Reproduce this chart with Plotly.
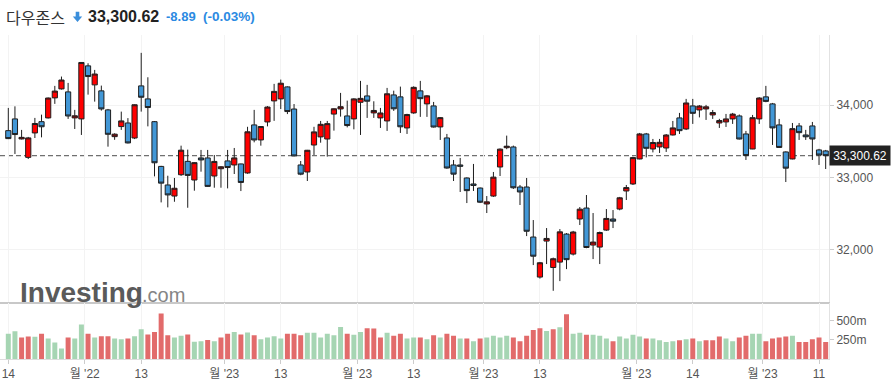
import plotly.graph_objects as go

# ---------------- data ----------------
dates = ["11-14","11-15","11-16","11-17","11-18","11-21","11-22","11-23","11-25","11-28","11-29","11-30",
         "12-01","12-02","12-05","12-06","12-07","12-08","12-09","12-12","12-13","12-14","12-15","12-16",
         "12-19","12-20","12-21","12-22","12-23","12-27","12-28","12-29","12-30",
         "01-03","01-04","01-05","01-06","01-09","01-10","01-11","01-12","01-13","01-17","01-18","01-19",
         "01-20","01-23","01-24","01-25","01-26","01-27","01-30","01-31",
         "02-01","02-02","02-03","02-06","02-07","02-08","02-09","02-10","02-13","02-14","02-15","02-16",
         "02-17","02-21","02-22","02-23","02-24","02-27","02-28",
         "03-01","03-02","03-03","03-06","03-07","03-08","03-09","03-10","03-13","03-14","03-15","03-16",
         "03-17","03-20","03-21","03-22","03-23","03-24","03-27","03-28","03-29","03-30","03-31",
         "04-03","04-04","04-05","04-06","04-10","04-11","04-12","04-13","04-14","04-17","04-18","04-19",
         "04-20","04-21","04-24","04-25","04-26","04-27","04-28",
         "05-01","05-02","05-03","05-04","05-05","05-08","05-09","05-10","05-11","05-12"]

open_ = [33647,33809,33532,33277,33615,33771,33823,34100,34224,34183,33823,33809,
         34543,34280,34197,33934,33564,33703,33753,33545,34266,34086,33771,33152,
         32895,32742,33037,33222,32964,33269,33269,33019,33120,
         33228,33172,33186,33061,33726,33518,33767,34058,34086,34252,33946,33172,
         33075,33448,33560,33531,33876,33947,33850,33809,
         34039,34127,33892,33823,33781,34141,34114,33684,33892,34197,34017,33989,
         33698,33546,33172,33172,32992,32909,32853,
         32632,32742,33144,33411,33421,32867,32867,32175,31621,32119,31754,31828,
         32216,31939,32424,32576,32064,32036,32271,32424,32562,32812,32909,
         33255,33601,33393,33421,33407,33587,33823,33670,33989,33933,33947,33864,
         33753,33767,33809,33850,33601,33393,33809,
         34114,34017,33726,33352,33255,33712,33587,33712,33380,33366]

high = [33961,33983,33657,33560,33823,33868,34105,34266,34395,34307,33934,34595,
        34579,34487,34270,33947,33610,33910,33820,34010,34723,34385,33780,33160,
        33023,32992,33439,33384,33210,33380,33380,33310,33155,
        33380,33407,33190,33700,33934,33710,33986,34294,34353,34260,34015,33227,
        33380,33700,33781,33781,33955,34169,34062,34095,
        34335,34280,34053,33961,34238,34200,34256,33880,34260,34335,34140,34044,
        33835,33601,33241,33269,33000,33186,32860,
        32742,33075,33400,33578,33440,32895,32992,32410,31830,32299,31890,32285,
        32230,32260,32590,32756,32507,32250,32562,32548,32730,32895,33285,
        33615,33615,33532,33532,33600,33781,33892,34086,34086,34000,34003,33933,
        33810,33878,33892,33870,33643,33864,34110,
        34266,34030,33809,33360,33753,33753,33657,33767,33395,33380]

low = [33530,33324,33525,33254,33545,33554,33815,34017,34215,33809,33670,33587,
       34145,34048,33924,33425,33520,33657,33470,33530,33910,33706,33014,32654,
       32585,32663,33020,32580,32816,33079,32870,32857,32857,
       32848,33047,32811,33050,33485,33439,33706,33782,33946,33876,33290,33030,
       32950,33310,33480,33287,33647,33841,33692,33665,
       33587,33823,33823,33684,33643,33920,33615,33601,33880,33837,33837,33690,
       33518,33120,32950,32798,32645,32812,32645,
       32507,32730,33019,33390,32840,32618,32188,31787,31600,31801,31431,31565,
       31731,31920,32341,32020,31870,31801,32260,32299,32545,32687,32895,
       33250,33277,33346,33338,33352,33580,33601,33655,33740,33830,33795,33809,
       33684,33698,33740,33525,33241,33390,33740,
       34040,33449,33410,32936,33250,33518,33518,33241,33172,33116]

close = [33536.70,33592.92,33553.83,33546.32,33745.69,33700.28,34098.10,34194.06,34347.03,33849.46,33852.53,34589.77,
         34395.01,34429.88,33947.10,33596.34,33597.92,33781.48,33476.46,34005.04,34108.64,33966.35,33202.22,32920.46,
         32757.54,32849.74,33376.48,33027.49,33203.93,33241.56,32875.71,33220.80,33147.25,
         33136.37,33269.77,32930.08,33630.61,33517.65,33704.10,33973.01,34189.97,34302.61,33910.85,33296.96,33044.56,
         33375.49,33629.56,33733.96,33743.84,33949.41,33978.08,33717.09,34086.04,
         34092.96,34053.94,33926.01,33891.02,34156.69,33949.01,33699.88,33869.27,34245.93,34089.27,34128.05,33696.85,
         33826.69,33129.59,33045.09,33153.91,32816.92,32889.09,32656.70,
         32661.84,33003.57,33390.97,33431.44,32856.46,32798.40,32254.86,31909.64,31819.14,32155.40,31874.57,32246.55,
         31861.98,32244.58,32560.60,32030.11,32105.25,32237.53,32432.08,32394.25,32717.60,32859.03,33274.15,
         33601.15,33402.38,33482.72,33485.29,33586.52,33684.79,33646.50,34029.69,33886.47,33987.18,33976.63,33897.01,
         33786.62,33808.96,33875.40,33530.83,33301.87,33826.16,34098.16,
         34051.70,33684.53,33414.24,33127.74,33674.38,33618.69,33561.81,33531.33,33309.51,33300.62]

volume_m = [331,362,283,295,290,331,270,217,137,283,270,452,331,283,298,298,270,258,270,298,
            391,322,355,597,310,283,306,322,226,234,250,234,283,331,355,322,347,310,258,283,
            298,270,331,331,310,343,343,283,331,310,419,331,318,355,403,399,283,343,306,331,
            270,283,283,258,310,283,331,306,270,270,234,270,283,306,283,306,283,234,306,379,
            403,367,391,415,585,331,343,318,318,306,270,234,295,270,318,295,270,270,246,222,
            234,246,258,270,234,246,246,295,270,234,283,306,331,331,234,270,283,295,306,222,
            222,258,283,222]

tick_pos = [0, 11.5, 20, 32.5, 41, 52.5, 61, 71.5, 80, 94.5, 103, 113.5, 122]
tick_text = ["14", "월 '22", "13", "월 '23", "13", "월 '23", "13", "월 '23", "13", "월 '23", "14", "월 '23", "11"]

price_ticks = [32000, 33000, 34000]
vol_ticks = [250, 500]
last_price = 33300.62
name = "다우존스"
change = "-8.89"
change_pct = "(-0.03%)"

# ---------------- derived ----------------
idx = list(range(len(close)))
vol_colors = ["#a6d5b3"] + ["#a6d5b3" if close[i] >= close[i - 1] else "#e26b6b" for i in range(1, len(close))]
volume = [v * 1e6 for v in volume_m]

# pixel helpers (plot area: x 0..829, y 35..359)
W, TOP, BOT = 829.0, 35.0, 359.0
def px(x):
    return x / W
def py(y):
    return (BOT - y) / (BOT - TOP)

FONT = "Liberation Sans, Arial, Noto Sans CJK KR, sans-serif"
fig = go.Figure()

fig.add_trace(go.Candlestick(
    x=idx, open=open_, high=high, low=low, close=close,
    increasing=dict(fillcolor="#ff0000", line=dict(color="#1e1e1e", width=1)),
    decreasing=dict(fillcolor="#4297d6", line=dict(color="#1e1e1e", width=1)),
    whiskerwidth=0, xaxis="x", yaxis="y", showlegend=False, hoverinfo="skip"))

fig.add_trace(go.Bar(
    x=idx, y=volume, marker=dict(color=vol_colors, line=dict(width=0)),
    xaxis="x2", yaxis="y2", showlegend=False, hoverinfo="skip"))

xr = [-1.25, 123.5]
split = py(301.5)
fig.update_layout(
    width=896, height=385,
    margin=dict(l=0, r=67, t=35, b=26),
    paper_bgcolor="white", plot_bgcolor="white",
    bargap=0.25, boxgap=0.22, boxgroupgap=0,
    xaxis=dict(domain=[0, 1], anchor="y", range=xr, showticklabels=False,
               tickvals=tick_pos, showgrid=True, gridcolor="#f3f3f3",
               showline=True, linecolor="#c8c8c8", linewidth=1.5,
               rangeslider=dict(visible=False), zeroline=False, ticks=""),
    yaxis=dict(domain=[split, 1], anchor="x", side="right", range=[31283, 34970],
               tickvals=price_ticks, ticktext=[f"{v:,}" for v in price_ticks],
               showgrid=True, gridcolor="#f3f3f3", zeroline=False,
               showline=True, linecolor="#e2e2e2", ticks="outside", ticklen=4,
               tickcolor="#cccccc", tickfont=dict(family=FONT, size=12, color="#555555")),
    xaxis2=dict(domain=[0, 1], anchor="y2", range=xr, matches="x",
                tickvals=tick_pos, ticktext=tick_text, showgrid=True, gridcolor="#f3f3f3",
                showline=True, linecolor="#dddddd", ticks="outside", ticklen=4,
                tickcolor="#cccccc", zeroline=False,
                tickfont=dict(family=FONT, size=12, color="#555555")),
    yaxis2=dict(domain=[0, py(302.5)], anchor="x2", side="right", range=[0, 740e6],
                tickvals=[v * 1e6 for v in vol_ticks], ticktext=[f"{v}m" for v in vol_ticks],
                showgrid=False, zeroline=False, showline=True, linecolor="#e2e2e2",
                ticks="outside", ticklen=4, tickcolor="#cccccc",
                tickfont=dict(family=FONT, size=12, color="#555555")),
)

# dashed last-price line
fig.add_shape(type="line", xref="paper", yref="y", x0=0, x1=1, y0=last_price, y1=last_price,
              line=dict(color="#707070", width=1.3, dash="5px,3px"), layer="below")

# last price box
fig.add_annotation(xref="paper", yref="y", x=1, y=last_price, xanchor="left", yanchor="middle",
                   text=f"{last_price:,.2f}", showarrow=False, bgcolor="#222222",
                   width=58, height=17, borderpad=1,
                   font=dict(family=FONT, size=12, color="white"))

# header
fig.add_annotation(xref="paper", yref="paper", x=px(4), y=py(17), xanchor="left", yanchor="middle",
                   text=name, showarrow=False,
                   font=dict(family="Noto Sans CJK KR", size=16, color="#333333"))
arrow = [(75.7, 11.7), (79.3, 11.7), (79.3, 16.5), (82.2, 16.5), (77.5, 22), (72.8, 16.5), (75.7, 16.5)]
path = "M " + " L ".join(f"{px(a):.5f},{py(b):.5f}" for a, b in arrow) + " Z"
fig.add_shape(type="path", xref="paper", yref="paper", path=path,
              fillcolor="#3a8edb", line=dict(width=0))
fig.add_annotation(xref="paper", yref="paper", x=px(86), y=py(17), xanchor="left", yanchor="middle",
                   text=f"<b>{close[-1]:,.2f}</b>", showarrow=False,
                   font=dict(family=FONT, size=16, color="#222222"))
fig.add_annotation(xref="paper", yref="paper", x=px(164), y=py(17), xanchor="left", yanchor="middle",
                   text=f"<b>{change}</b>", showarrow=False,
                   font=dict(family=FONT, size=13, color="#2b8ae2"))
fig.add_annotation(xref="paper", yref="paper", x=px(201), y=py(17), xanchor="left", yanchor="middle",
                   text=f"<b>{change_pct}</b>", showarrow=False,
                   font=dict(family=FONT, size=13.5, color="#2b8ae2"))

# watermark
fig.add_annotation(xref="paper", yref="paper", x=px(18), y=py(292), xanchor="left", yanchor="middle",
                   text="<b>Investing</b>", showarrow=False,
                   font=dict(family=FONT, size=28, color="#5a5a5a"))
fig.add_annotation(xref="paper", yref="paper", x=px(140), y=py(295), xanchor="left", yanchor="middle",
                   text=".com", showarrow=False,
                   font=dict(family=FONT, size=20, color="#858585"))

fig.write_html("out.html", config={"displayModeBar": False},
               post_script="document.body.style.margin='0px';")
